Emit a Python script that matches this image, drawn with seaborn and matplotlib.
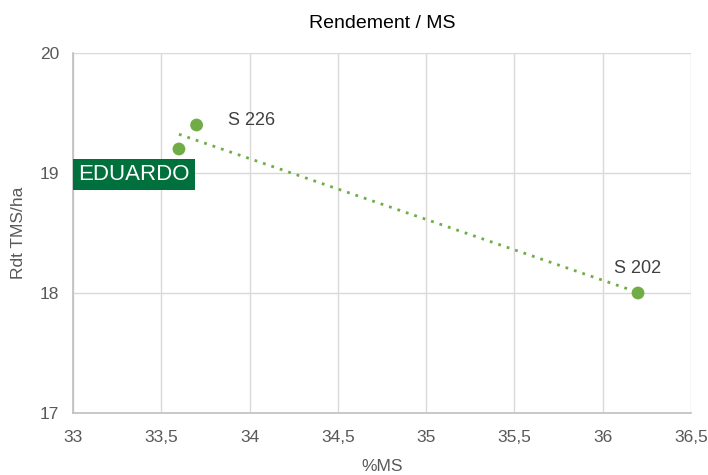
import numpy as np
import pandas as pd
import matplotlib
matplotlib.use("Agg")
import matplotlib.pyplot as plt
from matplotlib.ticker import FuncFormatter, MultipleLocator
import seaborn as sns

names = ["EDUARDO", "S 226", "S 202"]
ms = [33.6, 33.7, 36.2]
rdt = [19.2, 19.4, 18.0]

sns.set_theme(style="white")
plt.rcParams['font.family'] = ['Liberation Sans', 'DejaVu Sans']

df = pd.DataFrame({"name": names, "ms": ms, "rdt": rdt})

fig = plt.figure(figsize=(7.08, 4.75), dpi=100)
ax = fig.add_axes([73/708, 1-413/475, (691-73)/708, (413-53)/475])

green = "#70AD47"
sns.scatterplot(data=df, x="ms", y="rdt", ax=ax, color=green, s=85, edgecolor="none", zorder=3)

coef = np.polyfit(ms, rdt, 1)
xs = np.array([min(ms), max(ms)])
ax.plot(xs, np.polyval(coef, xs), linestyle=(0, (1, 2.2)), color=green, lw=2, zorder=2)

ax.set_xlim(33, 36.5)
ax.set_ylim(17, 20)
ax.xaxis.set_major_locator(MultipleLocator(0.5))
ax.yaxis.set_major_locator(MultipleLocator(1))
fmt = FuncFormatter(lambda v, p: (f"{v:g}").replace(".", ","))
ax.xaxis.set_major_formatter(fmt)
ax.yaxis.set_major_formatter(fmt)
ax.grid(True, color="#d9d9d9", lw=1)
ax.set_axisbelow(True)
for s in ["top", "right"]:
    ax.spines[s].set_visible(False)
for s in ["left", "bottom"]:
    ax.spines[s].set_color("#bfbfbf")
    ax.spines[s].set_linewidth(1.2)
ax.tick_params(axis="both", colors="#595959", labelsize=12.5, length=0, pad=10)
ax.tick_params(axis="x", pad=12)

ax.set_xlabel("%MS", fontsize=12.5, color="#595959", labelpad=10)
ax.set_ylabel("Rdt TMS/ha", fontsize=12.5, color="#595959", labelpad=10)
ax.set_title("Rendement / MS", fontsize=14, color="black", pad=18)

# labels
ax.text(33.7 + 0.18, 19.4 + 0.04, "S 226", fontsize=13, color="#404040", ha="left", va="center")
ax.text(36.2, 18.0 + 0.2, "S 202", fontsize=13, color="#404040", ha="center", va="center")
ax.text(33.03, 18.985, "EDUARDO", fontsize=16, color="white", ha="left", va="center",
        bbox=dict(boxstyle="square,pad=0.22", fc="#00703C", ec="none"))

fig.savefig("out.png", dpi=100)
